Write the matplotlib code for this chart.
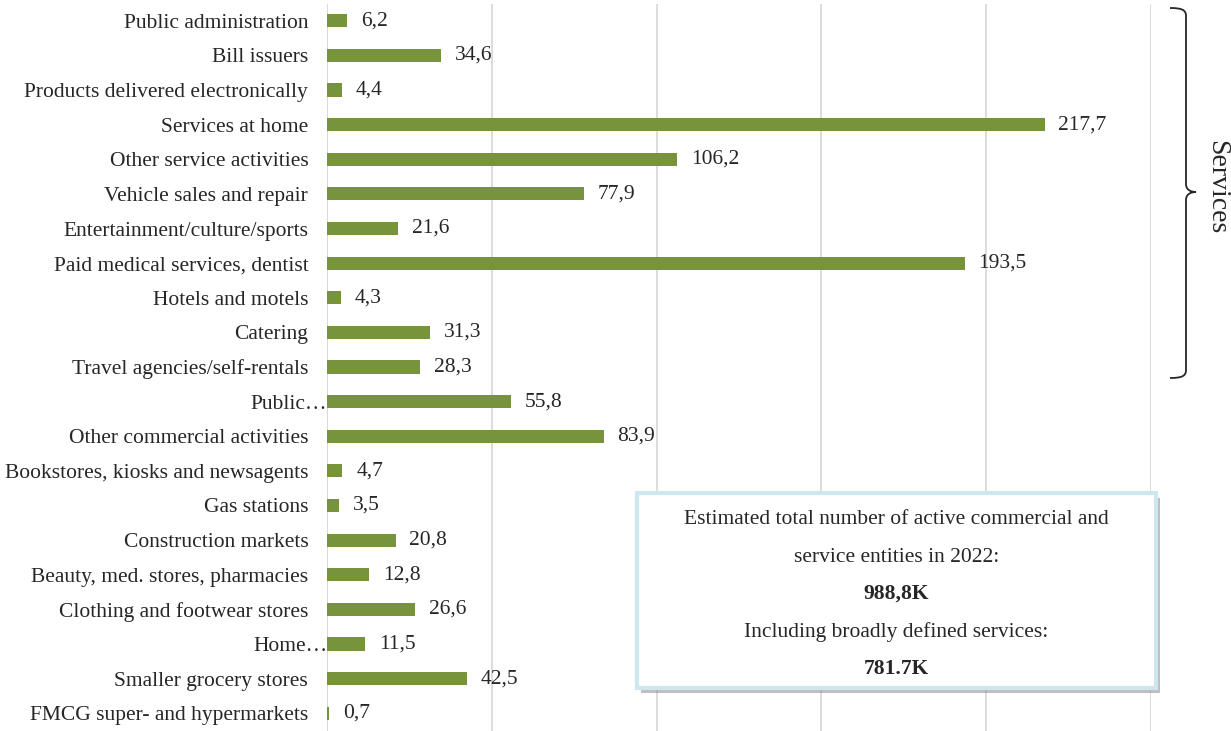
import matplotlib
matplotlib.use("Agg")
import matplotlib.pyplot as plt
import matplotlib.transforms as mtransforms
from matplotlib.path import Path
from matplotlib.patches import PathPatch, Rectangle

plt.rcParams['font.family'] = ['Liberation Serif', 'DejaVu Serif']

# categories top to bottom
categories = [
    "Public administration", "Bill issuers", "Products delivered electronically",
    "Services at home", "Other service activities", "Vehicle sales and repair",
    "Entertainment/culture/sports", "Paid medical services, dentist",
    "Hotels and motels", "Catering", "Travel agencies/self-rentals",
    "Public\u2026", "Other commercial activities", "Bookstores, kiosks and newsagents",
    "Gas stations", "Construction markets", "Beauty, med. stores, pharmacies",
    "Clothing and footwear stores", "Home\u2026", "Smaller grocery stores",
    "FMCG super- and hypermarkets",
]
values = [6.2, 34.6, 4.4, 217.7, 106.2, 77.9, 21.6, 193.5, 4.3, 31.3, 28.3,
          55.8, 83.9, 4.7, 3.5, 20.8, 12.8, 26.6, 11.5, 42.5, 0.7]
box_lines = ["Estimated total number of active commercial and",
             "service entities in 2022:", "988,8K",
             "Including broadly defined services:", "781.7K"]

W, H = 1231, 731
FS = 15.5
fig = plt.figure(figsize=(W / 100, H / 100), dpi=100)
ax = fig.add_axes([327 / W, 1 - 730.5 / H, (1151 - 327) / W, (730.5 - 3.5) / H])

n = len(values)
ypos = list(range(n))
ax.barh(ypos, values, height=0.38, color="#77933C", zorder=3)
for y, v in zip(ypos, values):
    ax.text(v + 4.2, y, f"{v:.1f}".replace(".", ","), va="center", ha="left",
            fontsize=FS, color="#262626")

ax.set_xlim(0, 250)
ax.set_ylim(n - 0.5, -0.5)
ax.set_xticks([0, 50, 100, 150, 200, 250])
ax.set_xticklabels([])
ax.set_yticks(ypos)
ax.set_yticklabels(categories, fontsize=FS, color="#262626")
ax.tick_params(length=0, pad=13.5)
# truncated labels run up to the axis line
for lbl in ax.get_yticklabels():
    if lbl.get_text().endswith("\u2026"):
        lbl.set_transform(lbl.get_transform() +
                          mtransforms.ScaledTranslation(19 / 100, 0, fig.dpi_scale_trans))
ax.grid(axis="x", color="#D9D9D9", linewidth=1.3, zorder=0)
for s in ["top", "right", "bottom", "left"]:
    ax.spines[s].set_visible(False)
ax.axvline(0, color="#D9D9D9", linewidth=1.3, zorder=2)

# overlay in pixel coords for brace and info box
ov = fig.add_axes([0, 0, 1, 1])
ov.set_xlim(0, W)
ov.set_ylim(H, 0)
ov.axis("off")
ov.patch.set_alpha(0)

# curly brace
x0, x1, xt = 1170, 1186, 1196
top, mid, bot = 8, 192, 378
verts = [(x0, top), (x1 - 4, top), (x1, top + 2), (x1, top + 8),
         (x1, mid - 8),
         (x1, mid - 2), (xt - 5, mid), (xt, mid),
         (xt - 5, mid), (x1, mid + 2), (x1, mid + 8),
         (x1, bot - 8),
         (x1, bot - 2), (x1 - 4, bot), (x0, bot)]
codes = [Path.MOVETO, Path.CURVE4, Path.CURVE4, Path.CURVE4,
         Path.LINETO,
         Path.CURVE4, Path.CURVE4, Path.CURVE4,
         Path.CURVE4, Path.CURVE4, Path.CURVE4,
         Path.LINETO,
         Path.CURVE4, Path.CURVE4, Path.CURVE4]
ov.add_patch(PathPatch(Path(verts, codes), fill=False, edgecolor="#262626", linewidth=1.3))
ov.text(1217, 187, "Services", rotation=-90, ha="center", va="center",
        fontsize=20, color="#262626")

# info box with shadow
bx, by, bw, bh = 637, 493, 519, 195
ov.add_patch(Rectangle((bx + 4, by + 5), bw, bh, facecolor="#8C8C8C", edgecolor="none",
                       alpha=0.55, zorder=4))
ov.add_patch(Rectangle((bx, by), bw, bh, facecolor="white", edgecolor="#CFE6EE",
                       linewidth=3, zorder=5))
cx = bx + bw / 2
for i, (t, yy) in enumerate(zip(box_lines, [520, 557, 594, 632, 669])):
    ov.text(cx, yy, t, ha="center", va="center", fontsize=FS, color="#262626",
            fontweight="bold" if i in (2, 4) else "normal", zorder=6)

fig.savefig("out.png", dpi=100)
